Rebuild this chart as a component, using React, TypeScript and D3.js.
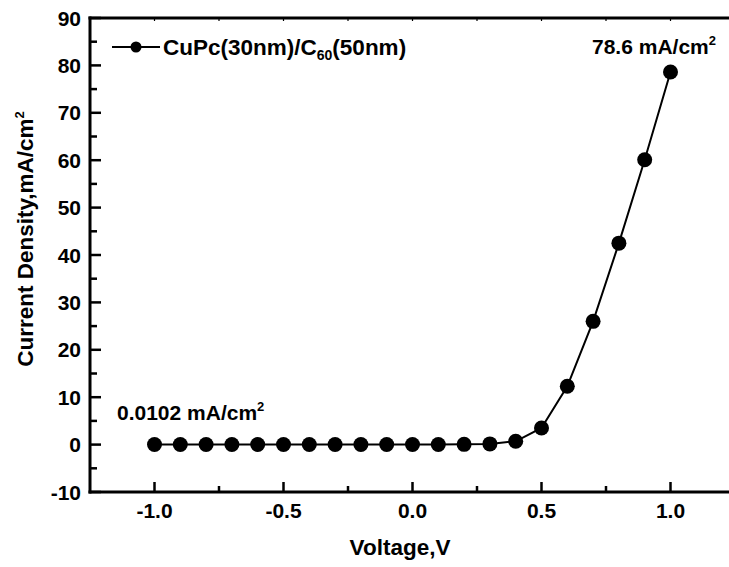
import React, { useRef, useEffect } from "react";
import * as d3 from "d3";

// J-V data for CuPc/C60 device
const voltage = [-1.0, -0.9, -0.8, -0.7, -0.6, -0.5, -0.4, -0.3, -0.2, -0.1, 0.0, 0.1, 0.2, 0.3, 0.4, 0.5, 0.6, 0.7, 0.8, 0.9, 1.0];
const current = [0.0102, 0.01, 0.01, 0.01, 0.01, 0.01, 0.01, 0.01, 0.01, 0.01, 0.01, 0.02, 0.05, 0.15, 0.7, 3.5, 12.3, 26.0, 42.5, 60.1, 78.6];
const xMajorTicks = [-1.0, -0.5, 0.0, 0.5, 1.0];
const xMinorTicks = [-0.75, -0.25, 0.25, 0.75];
const yMajorTicks = [-10, 0, 10, 20, 30, 40, 50, 60, 70, 80, 90];
const yMinorTicks = [-5, 5, 15, 25, 35, 45, 55, 65, 75, 85];
const seriesName = "CuPc(30nm)/C";

const W = 729;
const H = 567;
const FONT = "'Liberation Sans', Arial, sans-serif";

const App = () => {
  const svgRef = useRef(null);

  useEffect(() => {
    const svg = d3.select(svgRef.current);
    svg.selectAll("*").remove();

    const x = d3.scaleLinear().domain([-1.25, 1.25]).range([90, 735]);
    const y = d3.scaleLinear().domain([-10, 90]).range([492, 18]);
    const left = x(-1.25);
    const bottom = y(-10);
    const top = y(90);

    const g = svg.append("g");

    // series line + markers
    const line = d3
      .line()
      .x((d, i) => x(voltage[i]))
      .y((d) => y(d));
    g.append("path")
      .datum(current)
      .attr("d", line)
      .attr("fill", "none")
      .attr("stroke", "#000")
      .attr("stroke-width", 2);
    g.selectAll(".pt")
      .data(current)
      .join("circle")
      .attr("class", "pt")
      .attr("cx", (d, i) => x(voltage[i]))
      .attr("cy", (d) => y(d))
      .attr("r", 7.5)
      .attr("fill", "#000");

    // axes frame
    const axisStroke = 3;
    g.append("line")
      .attr("x1", left).attr("x2", left)
      .attr("y1", top - 1.5).attr("y2", bottom + 1.5)
      .attr("stroke", "#000").attr("stroke-width", axisStroke);
    g.append("line")
      .attr("x1", left - 1.5).attr("x2", W + 10)
      .attr("y1", bottom).attr("y2", bottom)
      .attr("stroke", "#000").attr("stroke-width", axisStroke);
    g.append("line")
      .attr("x1", left - 1.5).attr("x2", W + 10)
      .attr("y1", top).attr("y2", top)
      .attr("stroke", "#000").attr("stroke-width", axisStroke);

    // x ticks (inward)
    g.selectAll(".xmaj")
      .data(xMajorTicks)
      .join("line")
      .attr("x1", (d) => x(d)).attr("x2", (d) => x(d))
      .attr("y1", bottom).attr("y2", bottom - 10)
      .attr("stroke", "#000").attr("stroke-width", 2.5);
    g.selectAll(".xmin")
      .data(xMinorTicks)
      .join("line")
      .attr("x1", (d) => x(d)).attr("x2", (d) => x(d))
      .attr("y1", bottom).attr("y2", bottom - 6)
      .attr("stroke", "#000").attr("stroke-width", 2.5);
    g.selectAll(".xtop")
      .data([...xMajorTicks, ...xMinorTicks])
      .join("line")
      .attr("x1", (d) => x(d)).attr("x2", (d) => x(d))
      .attr("y1", top).attr("y2", top + 3)
      .attr("stroke", "#000").attr("stroke-width", 1.2);
    g.selectAll(".xlab")
      .data(xMajorTicks)
      .join("text")
      .attr("x", (d) => x(d))
      .attr("y", bottom + 26)
      .attr("text-anchor", "middle")
      .attr("font-family", FONT)
      .attr("font-weight", "bold")
      .attr("font-size", 21)
      .text((d) => d.toFixed(1));

    // y ticks (inward)
    g.selectAll(".ymaj")
      .data(yMajorTicks)
      .join("line")
      .attr("x1", left).attr("x2", left + 11)
      .attr("y1", (d) => y(d)).attr("y2", (d) => y(d))
      .attr("stroke", "#000").attr("stroke-width", 2.5);
    g.selectAll(".ymin")
      .data(yMinorTicks)
      .join("line")
      .attr("x1", left).attr("x2", left + 7)
      .attr("y1", (d) => y(d)).attr("y2", (d) => y(d))
      .attr("stroke", "#000").attr("stroke-width", 2.5);
    g.selectAll(".ylab")
      .data(yMajorTicks)
      .join("text")
      .attr("x", left - 9)
      .attr("y", (d) => y(d) + 7.5)
      .attr("text-anchor", "end")
      .attr("font-family", FONT)
      .attr("font-weight", "bold")
      .attr("font-size", 21)
      .text((d) => d);

    // axis titles
    g.append("text")
      .attr("x", 400)
      .attr("y", 555)
      .attr("text-anchor", "middle")
      .attr("font-family", FONT)
      .attr("font-weight", "bold")
      .attr("font-size", 22.5)
      .text("Voltage,V");
    const yt = g.append("text")
      .attr("transform", `translate(33,${239}) rotate(-90)`)
      .attr("text-anchor", "middle")
      .attr("font-family", FONT)
      .attr("font-weight", "bold")
      .attr("font-size", 22.5);
    yt.append("tspan").text("Current  Density,mA/cm");
    yt.append("tspan").attr("dy", -9).attr("font-size", 13).text("2");

    // legend
    g.append("line")
      .attr("x1", 112).attr("x2", 160)
      .attr("y1", 47).attr("y2", 47)
      .attr("stroke", "#000").attr("stroke-width", 2);
    g.append("circle").attr("cx", 136).attr("cy", 47).attr("r", 5.5).attr("fill", "#000");
    const lt = g.append("text")
      .attr("x", 163)
      .attr("y", 55)
      .attr("font-family", FONT)
      .attr("font-weight", "bold")
      .attr("font-size", 22.5);
    lt.append("tspan").text(seriesName);
    lt.append("tspan").attr("dy", 5).attr("font-size", 14).text("60");
    lt.append("tspan").attr("dy", -5).text("(50nm)");

    // annotations
    const annot = (tx, ty, label) => {
      const t = g.append("text")
        .attr("x", tx)
        .attr("y", ty)
        .attr("font-family", FONT)
        .attr("font-weight", "bold")
        .attr("font-size", 21);
      t.append("tspan").text(label);
      t.append("tspan").attr("dy", -9).attr("font-size", 13).text("2");
    };
    annot(117, 420, `${current[0]} mA/cm`);
    annot(592, 54, `${current[current.length - 1]} mA/cm`);
  }, []);

  return (
    <div>
      <style>{"body{margin:0}"}</style>
      <svg ref={svgRef} width={W} height={H} style={{ display: "block", background: "#fff" }}></svg>
    </div>
  );
};

export default App;
